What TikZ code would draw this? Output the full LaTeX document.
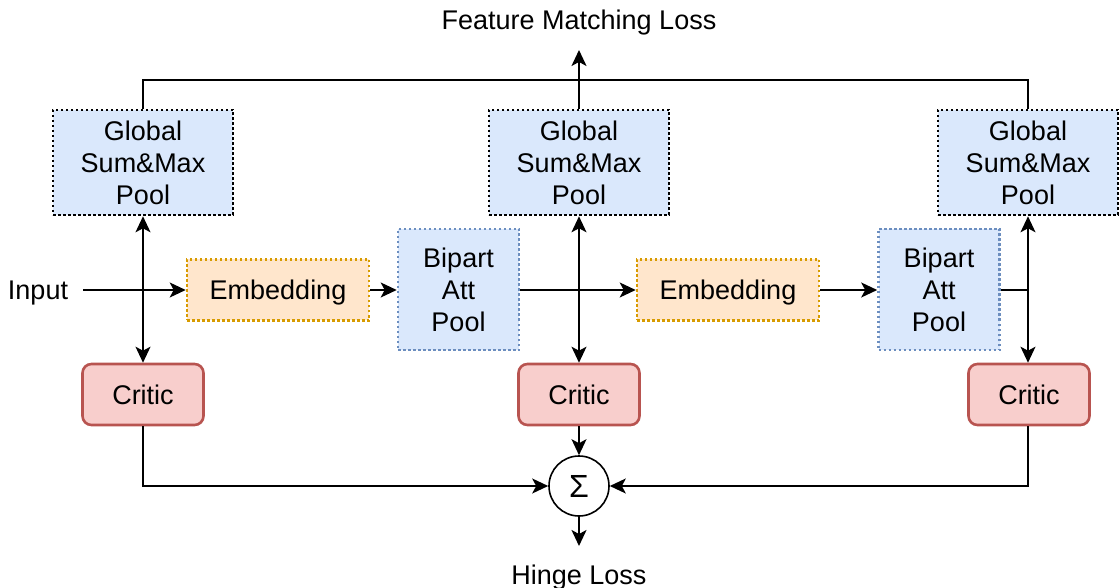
\documentclass[tikz,border=0pt]{standalone}
\usepackage{fontspec}
\setmainfont{Liberation Sans}
\usetikzlibrary{arrows.meta}
\definecolor{bluefill}{HTML}{DAE8FC}
\definecolor{bluedraw}{HTML}{6C8EBF}
\definecolor{orfill}{HTML}{FFE6CC}
\definecolor{ordraw}{HTML}{D79B00}
\definecolor{redfill}{HTML}{F8CECC}
\definecolor{reddraw}{HTML}{B85450}
\begin{document}
\begin{tikzpicture}[x=1pt,y=-1pt,
  txt/.style={font=\fontsize{27}{32}\selectfont, align=center, inner sep=0pt},
  lowd/.style={text depth=0pt},
  dotb/.style={line width=2.6pt, dash pattern=on 2.5pt off 2.5pt},
  gpool/.style={txt, dotb, draw=black, fill=bluefill, minimum width=180pt, minimum height=105pt},
  bpool/.style={txt, dotb, draw=bluedraw, fill=bluefill, minimum width=121pt, minimum height=121pt},
  embed/.style={txt, lowd, dotb, draw=ordraw, fill=orfill, minimum width=182pt, minimum height=61pt},
  critic/.style={txt, draw=reddraw, fill=redfill, line width=2.6pt, rounded corners=9pt, minimum width=121pt, minimum height=61pt},
  sumnode/.style={draw=black, fill=white, circle, line width=1.6pt, minimum size=60pt, inner sep=0pt, font=\fontsize{32}{34}\selectfont},
  conn/.style={line width=1.8pt},
  arr/.style={conn, -{Stealth[length=16pt,width=15pt,inset=4pt]}},
  arrb/.style={conn, {Stealth[length=16pt,width=15pt,inset=4pt]}-{Stealth[length=16pt,width=15pt,inset=4pt]}}
]
\useasboundingbox (0,0) rectangle (1120,588);

\node[gpool] (gp1) at (143,162.5) {Global\\Sum\&Max\\Pool};
\node[gpool] (gp2) at (579,162.5) {Global\\Sum\&Max\\Pool};
\node[gpool] (gp3) at (1028,162.5) {Global\\Sum\&Max\\Pool};

\node[embed] (em1) at (278,290) {Embedding};
\node[embed] (em2) at (728,290) {Embedding};

\node[bpool] (bp1) at (458.5,289.5) {Bipart\\Att\\Pool};
\node[bpool] (bp2) at (939,289.5) {Bipart\\Att\\Pool};

\node[critic] (cr1) at (143,394.5) {Critic};
\node[critic] (cr2) at (579,394.5) {Critic};
\node[critic] (cr3) at (1029,394.5) {Critic};

\node[sumnode] (sig) at (579,486) {Σ};

\node[txt, lowd] (inp) at (38,290) {Input};
\node[txt, lowd] (fml) at (579,20) {Feature Matching Loss};
\node[txt, lowd] (hl) at (579,575) {Hinge Loss};

\coordinate (inpstart) at (83,290);
\coordinate (fmltip) at (579,50);
\coordinate (hltip) at (579,546);
\coordinate (topl) at (143,80);

% input line and embedding chain
\draw[arr] (inpstart) -- (em1.west);
\draw[arr] (em1.east) -- (bp1.west |- em1.east);
\draw[arr] (bp1.east |- em2.west) -- (em2.west);
\draw[arr] (em2.east) -- (bp2.west |- em2.east);
\draw[conn] (bp2.east |- em2.east) -- (gp3.south |- em2.east);

% vertical double arrows
\draw[arrb] (gp1.south) -- (cr1.north);
\draw[arrb] (gp2.south) -- (cr2.north);
\draw[arrb] (gp3.south) -- (gp3.south |- cr3.north);

% top feature matching line
\draw[conn] (gp1.north) -- (topl) -- (topl -| gp3.north) -- (gp3.north);
\draw[arr] (gp2.north) -- (fmltip);

% critics to sum
\draw[arr] (cr1.south) |- (sig.west);
\draw[arr] (cr3.south -| gp3.south) |- (sig.east);
\draw[arr] (cr2.south) -- (sig.north);
\draw[arr] (sig.south) -- (hltip);
\end{tikzpicture}
\end{document}
